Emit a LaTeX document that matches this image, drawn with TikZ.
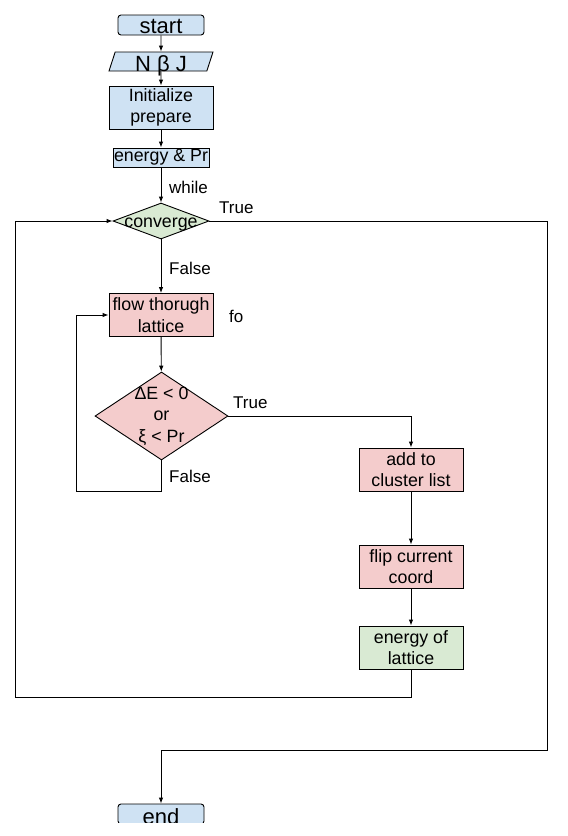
\documentclass[tikz,border=0pt]{standalone}
\usepackage{fontspec}
\setmainfont{Liberation Sans}
\usetikzlibrary{shapes.geometric,arrows.meta}
\definecolor{boxblue}{HTML}{CFE2F3}
\definecolor{boxpink}{HTML}{F4CCCC}
\definecolor{boxgreen}{HTML}{D9EAD3}
\tikzset{
	basebox/.style={draw, line width=0.9pt, inner sep=0pt, align=center,
		font=\fontsize{17.8}{21.5}\selectfont},
	termbox/.style={basebox, rounded corners=3pt, fill=boxblue, minimum width=86pt,
		minimum height=20pt, font=\fontsize{22}{26}\selectfont, text height=16pt, text depth=0pt},
	iobox/.style={basebox, trapezium, trapezium left angle=72, trapezium right angle=108,
		trapezium stretches body, fill=boxblue, minimum width=104pt,
		font=\fontsize{22}{26}\selectfont, text height=19pt, text depth=0pt},
	procbox/.style={basebox, minimum width=104pt, minimum height=43pt},
	decide/.style={basebox, diamond, fill=boxgreen},
	boxtext/.style={inner sep=0pt, align=center, font=\fontsize{17.8}{21.5}\selectfont},
	lbl/.style={inner sep=0pt, anchor=west, font=\fontsize{17}{21}\selectfont},
	flow/.style={line width=0.9pt, -{Latex[length=6pt,width=4.5pt]}}
}

\begin{document}
\begin{tikzpicture}[x=1pt, y=-1pt]
	\useasboundingbox (0,0) rectangle (568,836);

	% top of the chart
	\node[termbox] (start) at (161,25) {start};
	\node[iobox] (nbj) at (161,61.5) {N β J};
	\node[procbox, fill=boxblue] (init) at (161,107.5) {Initialize\\prepare};
	\node[basebox, fill=boxblue, minimum width=96pt, minimum height=19pt] (enpr) at (161,157.5) {energy \& Pr};

	\node[decide, minimum width=96pt, minimum height=36pt] (conv) at (161,221) {};
	\node[boxtext, text height=12pt, text depth=0pt] (convtxt) at (conv.center) {converge};

	% inner loop
	\node[procbox, fill=boxpink] (flowl) at (161,315) {flow thorugh\\lattice};
	\node[decide, fill=boxpink, minimum width=133pt, minimum height=88pt] (test) at (161.5,416) {};
	\node[boxtext] (testtxt) at (test.center) {ΔE < 0\\or\\ξ < Pr};

	% cluster branch
	\node[procbox, fill=boxpink] (add) at (411,469.5) {add to\\cluster list};
	\node[procbox, fill=boxpink] (flip) at (411,566.5) {flip current\\coord};
	\node[procbox, fill=boxgreen] (enl) at (411,647.5) {energy of\\lattice};

	\begin{scope}
		\clip (0,0) rectangle (568,822);
		\node[termbox, text height=20pt] (end) at (161,814) {end};
	\end{scope}

	\coordinate (leftrail) at (15,697);
	\coordinate (rightrail) at (547,750);
	\coordinate (backrail) at (76,491);

	% labels
	\node[lbl] (lwhile) at (169,187) {while};
	\node[lbl] (ltrue) at (219,208) {True};
	\node[lbl] (lfalse) at (169,268) {False};
	\node[lbl] (lfo) at (229,316) {fo};
	\node[lbl] (ltrueb) at (233,403) {True};
	\node[lbl] (lfalseb) at (169,476) {False};

	% connectors
	\draw[flow] (start) -- (nbj);
	\draw[flow] (nbj) -- (init);
	\draw[flow] (init) -- (enpr);
	\draw[flow] (enpr) -- (conv);
	\draw[flow] (conv) -- (flowl);
	\draw[flow] (flowl) -- (test);
	\draw[flow] (test.south) |- (backrail) |- (flowl.west);
	\draw[flow] (test.east) -| (add.north);
	\draw[flow] (add) -- (flip);
	\draw[flow] (flip) -- (enl);
	\draw[flow] (enl.south) |- (leftrail) |- (conv.west);
	\draw[flow] (conv.east) -| (rightrail) -| (end.north);

\end{tikzpicture}
\end{document}
